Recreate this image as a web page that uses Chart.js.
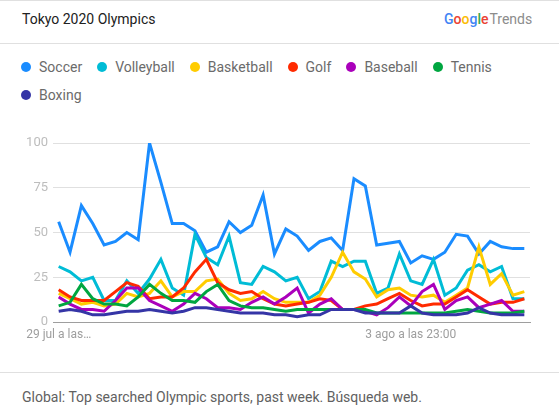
<!DOCTYPE html>
<html>
<head>
<meta charset="utf-8">
<script src="https://cdn.jsdelivr.net/npm/chart.js@4.4.1/dist/chart.umd.min.js"></script>
<style>
  html, body { margin: 0; padding: 0; background: #fff; }
  body { width: 559px; height: 410px; position: relative; overflow: hidden; font-family: Roboto, 'Noto Sans', sans-serif; border-top: 1px solid #e0e0e0; box-sizing: border-box; }
  .title { position: absolute; left: 22px; top: 9px; font-size: 14px; color: #212121; line-height: 18px; }
  .logo { position: absolute; left: 444px; top: 9px; font-size: 14px; line-height: 18px; white-space: nowrap; }
  .logo b { font-weight: 500; }
  .logo .trends { color: #8c8c8c; margin-left: 1px; }
  .rule { position: absolute; left: 0; width: 559px; height: 1px; background: #e0e0e0; }
  .legend-row { position: absolute; left: 21px; height: 18px; display: flex; align-items: center; white-space: nowrap; }
  .item { display: flex; align-items: center; margin-right: 15px; font-size: 14px; color: #6b6b6b; }
  .dot { width: 10px; height: 10px; border-radius: 50%; margin-right: 8px; }
  #wrap { position: absolute; left: 0; top: 120px; width: 559px; height: 230px; }
  .footer { position: absolute; left: 22px; top: 387px; font-size: 14px; color: #616161; line-height: 18px; white-space: nowrap; }
</style>
</head>
<body>
<div class="title">Tokyo 2020 Olympics</div>
<div class="logo"><b style="color:#4285F4">G</b><b style="color:#EA4335">o</b><b style="color:#FBBC05">o</b><b style="color:#4285F4">g</b><b style="color:#34A853">l</b><b style="color:#EA4335">e</b><span class="trends">Trends</span></div>
<div class="rule" style="top:42px"></div>
<div class="legend-row" id="row1" style="top:57px"></div>
<div class="legend-row" id="row2" style="top:85px"></div>
<div id="wrap"><canvas id="chart" width="559" height="230"></canvas></div>
<div class="rule" style="top:371px"></div>
<div class="footer">Global: Top searched Olympic sports, past week. Búsqueda web.</div>
<script>
// search interest per 4-hour slot
const seriesNames = ['Soccer', 'Volleyball', 'Basketball', 'Golf', 'Baseball', 'Tennis', 'Boxing'];
const seriesColors = ['#1a8cff', '#00bcd6', '#ffcc00', '#ff2a00', '#aa00bb', '#00a640', '#3535a6'];

const soccer = [56, 39, 65, 55, 43, 45, 50, 46, 100, 78, 55, 55, 51, 39, 42, 56, 50, 54, 71, 38, 52,
    48, 40, 45, 47, 40, 80, 76, 43, 44, 45, 33, 37, 35, 39, 49, 48, 38, 45, 42, 41, 41];
const volleyball = [31, 28, 23, 25, 12, 12, 23, 16, 24, 35, 19, 15, 49, 36, 32, 48, 22, 21, 31, 28, 23,
    25, 13, 17, 34, 31, 34, 34, 16, 19, 38, 23, 21, 35, 15, 19, 29, 32, 28, 31, 13, 13];
const basketball = [16, 13, 10, 11, 9, 10, 16, 14, 16, 23, 14, 17, 17, 23, 24, 16, 12, 13, 17, 13, 11,
    11, 11, 15, 25, 39, 28, 24, 14, 18, 19, 15, 14, 15, 11, 15, 19, 42, 21, 27, 15, 17];
const golf = [18, 14, 12, 12, 12, 17, 22, 20, 13, 14, 14, 19, 28, 35, 22, 18, 16, 17, 13, 10, 9,
    10, 11, 13, 12, 7, 7, 9, 10, 13, 16, 12, 9, 10, 10, 14, 18, 14, 10, 11, 11, 13];
const baseball = [14, 10, 7, 7, 6, 12, 19, 19, 12, 9, 6, 10, 16, 13, 8, 8, 7, 11, 14, 10, 14,
    19, 5, 10, 13, 7, 7, 6, 4, 8, 14, 9, 17, 21, 7, 12, 14, 8, 10, 12, 6, 6];
const tennis = [9, 11, 21, 13, 10, 10, 9, 14, 21, 16, 12, 12, 11, 17, 21, 12, 9, 8, 8, 7, 6,
    7, 7, 7, 7, 7, 7, 7, 5, 5, 5, 5, 5, 5, 5, 6, 7, 6, 5, 5, 5, 6];
const boxing = [6, 7, 6, 4, 4, 5, 6, 6, 7, 6, 5, 6, 8, 8, 7, 6, 5, 5, 5, 4, 4,
    3, 4, 4, 7, 7, 7, 5, 5, 5, 5, 9, 5, 4, 4, 4, 5, 8, 5, 4, 4, 4];

const xTickText = { 0: '29 jul a las…', 31: '3 ago a las 23:00' };
const yTicks = [0, 25, 50, 75, 100];

const allSeries = [soccer, volleyball, basketball, golf, baseball, tennis, boxing];
const slots = soccer.map((_, i) => i);

// html legend, six on the first row, boxing wraps
seriesNames.forEach((name, i) => {
    const row = document.getElementById(i < 6 ? 'row1' : 'row2');
    const item = document.createElement('div');
    item.className = 'item';
    item.innerHTML = '<span class="dot" style="background:' + seriesColors[i] + '"></span>' + name;
    row.appendChild(item);
});

const datasets = allSeries.map((values, i) => ({
    label: seriesNames[i],
    data: values,
    borderColor: seriesColors[i],
    backgroundColor: seriesColors[i],
    borderWidth: 3,
    pointRadius: 0,
    tension: 0,
    fill: false,
    order: allSeries.length - i,
}));

new Chart(document.getElementById('chart').getContext('2d'), {
    type: 'line',
    data: { labels: slots, datasets },
    options: {
        responsive: false,
        animation: false,
        devicePixelRatio: 1,
        layout: { padding: { top: 22, right: 29, left: 0, bottom: 0 } },
        plugins: { legend: { display: false }, tooltip: { enabled: false } },
        scales: {
            x: {
                offset: true,
                grid: { display: false, drawTicks: false },
                border: { display: true, color: '#9e9e9e', width: 1 },
                ticks: {
                    autoSkip: false,
                    maxRotation: 0,
                    padding: 6,
                    color: '#9e9e9e',
                    font: { family: 'Roboto', size: 12 },
                    callback: (v, i) => xTickText[i] || '',
                },
                afterFit: (scale) => { scale.height = 29; },
            },
            y: {
                min: 0,
                max: 100,
                afterBuildTicks: (scale) => { scale.ticks = yTicks.map(v => ({ value: v })); },
                grid: {
                    color: (ctx) => (ctx.tick && ctx.tick.value === 0 ? 'rgba(0,0,0,0)' : '#e0e0e0'),
                    drawTicks: false,
                },
                border: { display: false },
                ticks: {
                    padding: 5,
                    color: '#bdbdbd',
                    font: { family: 'Roboto', size: 13 },
                },
                afterFit: (scale) => { scale.width = 53; },
            },
        },
    },
});
</script>
</body>
</html>
